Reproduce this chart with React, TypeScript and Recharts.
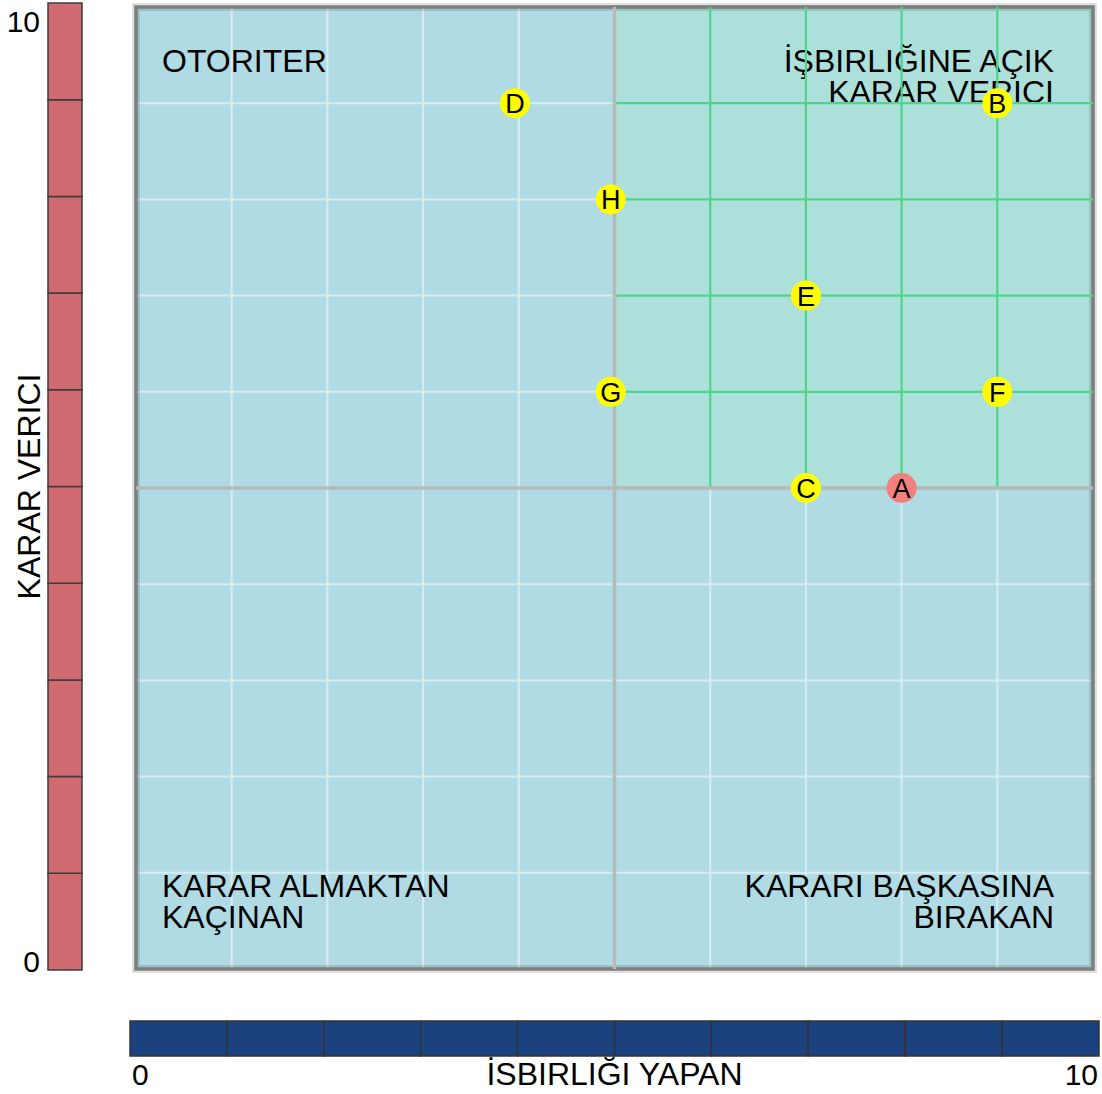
import {
  Bar,
  BarChart,
  CartesianGrid,
  Label,
  ReferenceArea,
  ReferenceLine,
  Scatter,
  ScatterChart,
  XAxis,
  YAxis,
} from "recharts";

const pointNames = ["A", "B", "C", "D", "E", "F", "G", "H"];
const cooperation = [8, 9, 7, 3.96, 7, 9, 4.96, 4.96];
const decision = [5, 9, 5, 9, 7, 6, 6, 8];
const highlighted = "A";

const gridTicks = [0, 1, 2, 3, 4, 5, 6, 7, 8, 9, 10];
const axisTicks = [0, 10];
const scaleSteps = [1, 1, 1, 1, 1, 1, 1, 1, 1, 1];

const topLeftLabel = ["OTORITER"];
const topRightLabel = ["İŞBIRLIĞINE AÇIK", "KARAR VERICI"];
const bottomLeftLabel = ["KARAR ALMAKTAN", "KAÇINAN"];
const bottomRightLabel = ["KARARI BAŞKASINA", "BIRAKAN"];
const xTitle = "İSBIRLIĞI YAPAN";
const yTitle = "KARAR VERICI";

const FONT = "'Liberation Sans', Arial, sans-serif";
const MID = 5;

const points = pointNames.map((name, i) => ({
  name,
  x: cooperation[i],
  y: decision[i],
}));

const stepRow = [
  scaleSteps.reduce<Record<string, number | string>>(
    (row, v, i) => {
      row[`s${i}`] = v;
      return row;
    },
    { name: "scale" }
  ),
];

const innerTicks = gridTicks.filter((t) => t > MID && t < 10);

// quadrant background + its caption, drawn under the points
function quadrantShape(
  lines: string[],
  corner: "tl" | "tr" | "bl" | "br",
  fill: string,
  stroke: string
) {
  return (props: any) => {
    const { x, y, width, height } = props;
    const right = corner === "tr" || corner === "br";
    const top = corner === "tl" || corner === "tr";
    const tx = right ? x + width - 39 : x + 26;
    const firstY = top ? y + 65 : y + height - 72;
    return (
      <g>
        <rect x={x} y={y} width={width} height={height} fill={fill} stroke={stroke} strokeWidth={2.5} />
        <text
          textAnchor={right ? "end" : "start"}
          fontFamily={FONT}
          fontSize={32}
          fill="#000"
        >
          {lines.map((l, i) => (
            <tspan key={l} x={tx} y={firstY + i * 30.5}>
              {l}
            </tspan>
          ))}
        </text>
      </g>
    );
  };
}

const PointMarker = (props: any) => {
  const { cx, cy, payload } = props;
  return (
    <g>
      <circle
        cx={cx}
        cy={cy}
        r={15}
        fill={payload.name === highlighted ? "#f47f7f" : "#ffff00"}
      />
      <text
        x={cx}
        y={cy + 10}
        textAnchor="middle"
        fontFamily={FONT}
        fontSize={27}
        fill="#000"
      >
        {payload.name}
      </text>
    </g>
  );
};

const LeftTick = (props: any) => {
  const { x, y, payload } = props;
  const top = payload.value === 10;
  return (
    <text x={x} y={y} dy={top ? 23 : 2} textAnchor="end" fontFamily={FONT} fontSize={30} fill="#000">
      {payload.value}
    </text>
  );
};

const BottomTick = (props: any) => {
  const { x, y, payload } = props;
  const first = payload.value === 0;
  return (
    <text
      x={x}
      y={y}
      dx={first ? 2 : 4}
      dy={21}
      textAnchor={first ? "start" : "end"}
      fontFamily={FONT}
      fontSize={30}
      fill="#000"
    >
      {payload.value}
    </text>
  );
};

const YTitle = (props: any) => {
  const { x, y, width, height } = props.viewBox;
  const cx = x + width - 8;
  const cy = y + height / 2;
  return (
    <text
      x={cx}
      y={cy}
      transform={`rotate(-90, ${cx}, ${cy})`}
      textAnchor="middle"
      fontFamily={FONT}
      fontSize={32}
      fill="#000"
    >
      {yTitle}
    </text>
  );
};

const XTitle = (props: any) => {
  const { x, y, width } = props.viewBox;
  return (
    <text x={x + width / 2} y={y + 29} textAnchor="middle" fontFamily={FONT} fontSize={32} fill="#000">
      {xTitle}
    </text>
  );
};

export default function App() {
  return (
    <div
      style={{
        position: "absolute",
        left: 0,
        top: 0,
        width: 1102,
        height: 1094,
        background: "#fff",
        fontFamily: FONT,
      }}
    >
      {/* vertical scale bar */}
      <div style={{ position: "absolute", left: 0, top: 0 }}>
        <BarChart
          width={90}
          height={980}
          data={stepRow}
          margin={{ top: 3, right: 8, bottom: 10, left: 0 }}
          barCategoryGap={0}
        >
          <XAxis dataKey="name" hide />
          <YAxis
            type="number"
            domain={[0, 10]}
            ticks={axisTicks}
            width={48}
            axisLine={false}
            tickLine={false}
            tick={<LeftTick />}
          >
            <Label content={<YTitle />} />
          </YAxis>
          {scaleSteps.map((_, i) => (
            <Bar
              key={i}
              dataKey={`s${i}`}
              stackId="a"
              fill="#cf6a70"
              stroke="#3c3c3c"
              strokeWidth={1.5}
              isAnimationActive={false}
            />
          ))}
        </BarChart>
      </div>

      {/* main quadrant chart */}
      <div style={{ position: "absolute", left: 0, top: 0 }}>
        <ScatterChart
          width={1102}
          height={1094}
          margin={{ top: 7, right: 9, bottom: 125, left: 136 }}
        >
          <CartesianGrid
            fill="#b0dbe4"
            stroke="#d6edf2"
            strokeWidth={2}
            horizontalValues={gridTicks}
            verticalValues={gridTicks}
          />
          <XAxis type="number" dataKey="x" domain={[0, 10]} ticks={gridTicks} hide />
          <YAxis type="number" dataKey="y" domain={[0, 10]} ticks={gridTicks} hide />

          <ReferenceArea x1={0} x2={MID} y1={MID} y2={10} shape={quadrantShape(topLeftLabel, "tl", "none", "none")} />
          <ReferenceArea x1={MID} x2={10} y1={MID} y2={10} shape={quadrantShape(topRightLabel, "tr", "#ade0db", "#3fc477")} />
          <ReferenceArea x1={0} x2={MID} y1={0} y2={MID} shape={quadrantShape(bottomLeftLabel, "bl", "none", "none")} />
          <ReferenceArea x1={MID} x2={10} y1={0} y2={MID} shape={quadrantShape(bottomRightLabel, "br", "none", "none")} />

          {innerTicks.map((t) => (
            <ReferenceLine
              key={`v${t}`}
              segment={[{ x: t, y: MID }, { x: t, y: 10 }]}
              stroke="#4cd68a"
              strokeWidth={2.2}
            />
          ))}
          {innerTicks.map((t) => (
            <ReferenceLine
              key={`h${t}`}
              segment={[{ x: MID, y: t }, { x: 10, y: t }]}
              stroke="#4cd68a"
              strokeWidth={2.2}
            />
          ))}

          <ReferenceLine x={MID} stroke="#b9b9b9" strokeWidth={3.5} />
          <ReferenceLine y={MID} stroke="#b9b9b9" strokeWidth={3.5} />

          <ReferenceArea x1={0} x2={10} y1={0} y2={10} fill="none" stroke="rgba(0,0,0,0.12)" strokeWidth={8} />
          <ReferenceArea x1={0} x2={10} y1={0} y2={10} fill="none" stroke="#7e7e7e" strokeWidth={3.5} />

          <Scatter data={points} shape={<PointMarker />} isAnimationActive={false} />
        </ScatterChart>
      </div>

      {/* horizontal scale bar */}
      <div style={{ position: "absolute", left: 0, top: 1000 }}>
        <BarChart
          width={1102}
          height={94}
          layout="vertical"
          data={stepRow}
          margin={{ top: 21, right: 3, bottom: 0, left: 130 }}
          barCategoryGap={0}
        >
          <XAxis
            type="number"
            domain={[0, 10]}
            ticks={axisTicks}
            height={38}
            axisLine={false}
            tickLine={false}
            tick={<BottomTick />}
          >
            <Label content={<XTitle />} />
          </XAxis>
          <YAxis type="category" dataKey="name" hide />
          {scaleSteps.map((_, i) => (
            <Bar
              key={i}
              dataKey={`s${i}`}
              stackId="a"
              fill="#1b427e"
              stroke="#333333"
              strokeWidth={1.5}
              isAnimationActive={false}
            />
          ))}
        </BarChart>
      </div>
    </div>
  );
}
